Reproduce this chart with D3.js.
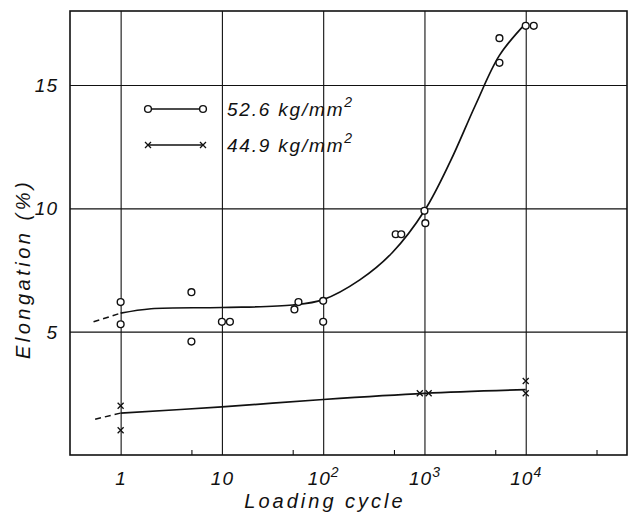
<!DOCTYPE html>
<html>
<head>
<meta charset="utf-8">
<script src="https://cdn.jsdelivr.net/npm/d3@7"></script>
<style>
  body { margin: 0; background: #fff; }
  text { font-family: "Liberation Sans", Arial, sans-serif; font-style: italic; fill: #111; }
</style>
</head>
<body>
<svg width="633" height="515"></svg>
<script>
// tick values
var xTicks = [1, 10, 100, 1000, 10000];
var xTickLabels = [["1", ""], ["10", ""], ["10", "2"], ["10", "3"], ["10", "4"]];
var xMinorTicks = [5, 50, 500, 5000, 50000];
var yTicks = [5, 10, 15];

// measured points, 52.6 kg/mm2 (circles)
var circlePts = [[1, 6.2], [1, 5.3], [5, 6.6], [5, 4.6], [10, 5.4], [12, 5.4], [52, 5.9], [57, 6.2],
    [100, 6.25], [100, 5.4], [520, 8.95], [590, 8.95], [1000, 9.9], [1020, 9.4],
    [5500, 16.9], [5500, 15.9], [10000, 17.4], [12000, 17.4]];
// measured points, 44.9 kg/mm2 (crosses)
var crossPts = [[1, 2.0], [1, 1.0], [900, 2.5], [1100, 2.5], [10000, 3.0], [10000, 2.5]];

// hand-drawn fit curves
var fitHigh = [[1, 5.75], [2, 5.93], [10, 5.98], [50, 6.08], [100, 6.3], [230, 7.1], [480, 8.2],
    [1000, 9.9], [1800, 11.9], [3200, 14.2], [5500, 16.2], [10000, 17.5]];
var fitHighDash = [[0.54, 5.4], [1, 5.75]];
var fitLow = [[1, 1.7], [10, 1.95], [100, 2.25], [1000, 2.5], [10000, 2.65]];
var fitLowDash = [[0.56, 1.45], [1, 1.7]];

var legendLabels = ["52.6 kg/mm", "44.9 kg/mm"];

var margin = { top: 11, right: 6, bottom: 60, left: 70 };
var size = { w: 633 - margin.left - margin.right, h: 515 - margin.top - margin.bottom };

var svg = d3.select("svg");
var chart = svg.append("g")
    .attr("transform", "translate(" + margin.left + "," + margin.top + ")");

var x = d3.scaleLog().domain([Math.pow(10, -0.5), 1e5]).range([0, size.w]);
var y = d3.scaleLinear().domain([0, 18]).range([size.h, 0]);

// vertical grid + labels
var xAxis = d3.axisBottom(x).tickValues(xTicks).tickSize(-size.h).tickFormat("");
var gx = chart.append("g")
    .attr("transform", "translate(0," + size.h + ")")
    .call(xAxis);
gx.select(".domain").remove();
gx.selectAll(".tick line").attr("stroke", "#111").attr("stroke-width", 1.1);
gx.selectAll(".tick").each(function(d, i) {
    var t = d3.select(this).append("text")
        .attr("y", 30)
        .attr("text-anchor", "middle")
        .style("font-size", "19px")
        .style("letter-spacing", "1px");
    t.append("tspan").text(xTickLabels[i][0]);
    if (xTickLabels[i][1]) {
        t.append("tspan").attr("dy", -8).style("font-size", "14px").text(xTickLabels[i][1]);
    }
});

// small minor ticks on bottom edge
var gm = chart.append("g")
    .attr("transform", "translate(0," + size.h + ")")
    .call(d3.axisBottom(x).tickValues(xMinorTicks).tickSize(-5).tickFormat(""));
gm.select(".domain").remove();
gm.selectAll(".tick line").attr("stroke", "#111").attr("stroke-width", 1.1);

// horizontal grid + labels
var yAxis = d3.axisLeft(y).tickValues(yTicks).tickSize(-size.w).tickFormat("");
var gy = chart.append("g").call(yAxis);
gy.select(".domain").remove();
gy.selectAll(".tick line").attr("stroke", "#111").attr("stroke-width", 1.1);
gy.selectAll(".tick").append("text")
    .attr("x", -12)
    .attr("dy", "0.35em")
    .attr("text-anchor", "end")
    .style("font-size", "19px")
    .style("letter-spacing", "1px")
    .text(d => d);

// frame
chart.append("rect")
    .attr("width", size.w)
    .attr("height", size.h)
    .attr("fill", "none")
    .attr("stroke", "#111")
    .attr("stroke-width", 1.6);

// fit curves
var line = d3.line()
    .x(d => x(d[0]))
    .y(d => y(d[1]))
    .curve(d3.curveCatmullRom.alpha(0.5));

[fitHigh, fitLow].forEach(function(f) {
    chart.append("path").attr("d", line(f))
        .attr("fill", "none").attr("stroke", "#111").attr("stroke-width", 1.7);
});
[fitHighDash, fitLowDash].forEach(function(f) {
    chart.append("path").attr("d", line(f))
        .attr("fill", "none").attr("stroke", "#111").attr("stroke-width", 1.5)
        .attr("stroke-dasharray", "6,4");
});

// markers
function circleMark(g, cx, cy) {
    g.append("circle").attr("cx", cx).attr("cy", cy).attr("r", 3.4)
        .attr("fill", "#fff").attr("stroke", "#111").attr("stroke-width", 1.4);
}
function crossMark(g, cx, cy) {
    var s = 3;
    g.append("path")
        .attr("d", "M" + (cx - s) + "," + (cy - s) + "L" + (cx + s) + "," + (cy + s) +
            "M" + (cx - s) + "," + (cy + s) + "L" + (cx + s) + "," + (cy - s))
        .attr("stroke", "#111").attr("stroke-width", 1.3);
}

circlePts.forEach(d => circleMark(chart, x(d[0]), y(d[1])));
crossPts.forEach(d => crossMark(chart, x(d[0]), y(d[1])));

// legend
var legend = svg.append("g");
var legY = [109, 145];
legend.append("line").attr("x1", 148).attr("x2", 203).attr("y1", legY[0]).attr("y2", legY[0])
    .attr("stroke", "#111").attr("stroke-width", 1.4);
circleMark(legend, 148, legY[0]);
circleMark(legend, 203, legY[0]);
legend.append("line").attr("x1", 148).attr("x2", 203).attr("y1", legY[1]).attr("y2", legY[1])
    .attr("stroke", "#111").attr("stroke-width", 1.4);
crossMark(legend, 148, legY[1]);
crossMark(legend, 203, legY[1]);

legendLabels.forEach(function(l, i) {
    var t = legend.append("text")
        .attr("x", 227)
        .attr("y", legY[i] + 7)
        .style("font-size", "19px")
        .style("letter-spacing", "1.8px");
    t.append("tspan").text(l);
    t.append("tspan").attr("dy", -9).style("font-size", "14px").text("2");
});

// axis titles
svg.append("text")
    .attr("x", 325)
    .attr("y", 508)
    .attr("text-anchor", "middle")
    .style("font-size", "20px")
    .style("letter-spacing", "3px")
    .text("Loading  cycle");

svg.append("text")
    .attr("transform", "translate(30,269) rotate(-90)")
    .attr("text-anchor", "middle")
    .style("font-size", "20px")
    .style("letter-spacing", "3.5px")
    .text("Elongation    (%)");
</script>
</body>
</html>
